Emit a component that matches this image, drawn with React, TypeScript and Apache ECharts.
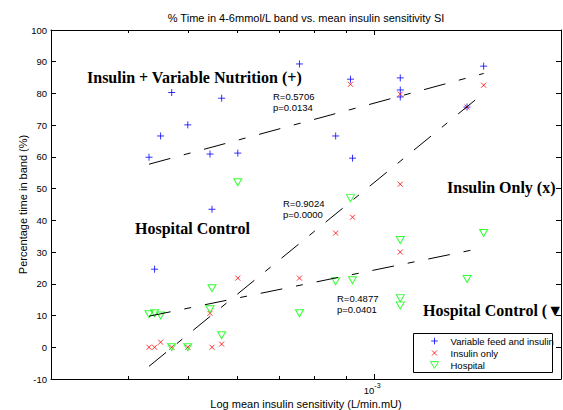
import { useEffect, useRef } from "react";
import * as echarts from "echarts";

const chartTitle = "% Time in 4-6mmol/L band vs. mean insulin sensitivity SI";
const xAxisTitle = "Log mean insulin sensitivity (L/min.mU)";
const yAxisTitle = "Percentage time in band (%)";

// x range and tick values of the log axis (L/min.mU)
const xMin = 3e-4;
const xMax = 2e-3;
const xMajorTicks = [1e-3];
const xMinorTicks = [4e-4, 5e-4, 6e-4, 7e-4, 8e-4, 9e-4, 2e-3];

// y range
const yMin = -10;
const yMax = 100;
const yStep = 10;

// mean insulin sensitivity SI of each patient
const sensitivity = [
  4.32e-4, 4.41e-4, 4.51e-4, 4.7e-4, 4.99e-4, 5.42e-4, 5.46e-4, 5.66e-4, 6.01e-4,
  7.56e-4, 8.65e-4, 9.14e-4, 9.21e-4, 1.1e-3, 1.1e-3, 1.1e-3, 1.41e-3, 1.5e-3,
];
// % time in band for each protocol, same patient order
const variableFeed = [59.9, 24.6, 66.6, 80.3, 70.1, 60.9, 43.5, 78.5, 61.2, 89.3, 66.6, 84.5, 59.6, 84.9, 81.1, 78.9, 75.7, 88.6];
const insulinOnly = [0, 0, 1.6, 0, 0, 10.7, 0, 1.0, 21.8, 21.8, 36.0, 82.9, 41.0, 79.8, 51.4, 30.0, 75.7, 82.6];
const hospital = [10.4, 10.7, 10.0, 0, 0, 12.0, 18.6, 3.8, 52.0, 10.7, 20.8, 47.0, 21.1, 33.8, 15.5, 13.2, 21.5, 36.0];

// regression line end points
const fitRange = [4.32e-4, 1.5e-3];
const fitVariableFeed = [57.7, 86.3];
const fitInsulinOnly = [-6.0, 80.1];
const fitHospital = [9.8, 31.4];

const seriesNames = ["Variable feed and insulin", "Insulin only", "Hospital"];
const statsVariableFeed = ["R=0.5706", "p=0.0134"];
const statsInsulinOnly = ["R=0.9024", "p=0.0000"];
const statsHospital = ["R=0.4877", "p=0.0401"];
const bigLabels = ["Insulin + Variable Nutrition (+)", "Hospital Control", "Insulin Only (x)", "Hospital Control (\u25BC"];

const SANS = "'Liberation Sans', Arial, Helvetica, sans-serif";
const SERIF = "'Liberation Serif', 'Times New Roman', Times, serif";

const PLUS = "path://M5,0L5,10M0,5L10,5";
const CROSS = "path://M0,0L10,10M10,0L0,10";
const CROSS_LEGEND = "path://M-3,-3M13,13M0,0L10,10M10,0L0,10";
const PLUS_LEGEND = "path://M-1,-1M11,11M5,0L5,10M0,5L10,5";
const TRI_DOWN = "path://M0,0L10,0L5,8.5Z";

export default function App() {
  const ref = useRef<HTMLDivElement>(null);

  useEffect(() => {
    document.body.style.margin = "0";
    const chart = echarts.init(ref.current as HTMLDivElement, null, { renderer: "svg" });

    const pairs = (ys: number[]) => sensitivity.map((x, i) => [x, ys[i]]);
    const fit = (ys: number[]) => fitRange.map((x, i) => [x, ys[i]]);
    const black = { color: "#000", width: 1 };
    const lg = (v: number) => Math.log10(v);

    // helper axes in log10 space that only carry the tick marks / box line
    const tickAxis = (position: string, ticks: number[], length: number, line: boolean) => ({
      type: "value",
      gridIndex: 0,
      position,
      min: lg(xMin),
      max: lg(xMax),
      splitLine: { show: false },
      axisLine: { show: line, onZero: false, lineStyle: black },
      axisTick: { show: true, inside: true, length, customValues: ticks.map(lg), lineStyle: black },
      axisLabel: { show: false },
      axisPointer: { show: false },
    });

    const baseY: any = {
      type: "value",
      min: yMin,
      max: yMax,
      interval: yStep,
      splitLine: { show: false },
    };

    const txt = (text: string, x: number, y: number, font: string, align = "left") => ({
      type: "text",
      x,
      y,
      z: 6,
      silent: true,
      style: { text, font, fill: "#000", align, verticalAlign: "middle", textAlign: align, textVerticalAlign: "middle" },
    });

    const small = `9.5px ${SANS}`;
    const bold = `bold 16px ${SERIF}`;

    const option: any = {
      animation: false,
      backgroundColor: "#fff",
      grid: { left: 51, top: 30, right: 2, bottom: 31, outerBoundsMode: "none", containLabel: false },
      xAxis: [
        {
          type: "log",
          logBase: 10,
          min: xMin,
          max: xMax,
          gridIndex: 0,
          position: "bottom",
          splitLine: { show: false },
          axisLine: { show: true, onZero: false, lineStyle: black },
          axisTick: { show: false },
          axisLabel: {
            show: true,
            customValues: xMajorTicks,
            margin: 3,
            formatter: (v: number) => `{b|10}{s|${Math.round(Math.log10(v))}}`,
            rich: {
              b: { fontSize: 9.5, fontFamily: SANS, color: "#000", lineHeight: 10, padding: [6, 0, 0, 0] },
              s: { fontSize: 7, fontFamily: SANS, color: "#000", lineHeight: 8, verticalAlign: "top", padding: [0, 5, 0, 0] },
            },
          },
          name: xAxisTitle,
          nameLocation: "middle",
          nameGap: 19,
          nameMoveOverlap: false,
          nameTextStyle: { fontSize: 11, fontFamily: SANS, color: "#000" },
        },
        tickAxis("bottom", xMajorTicks, 5, false),
        tickAxis("bottom", xMinorTicks, 3, false),
        tickAxis("top", xMajorTicks, 5, true),
        tickAxis("top", xMinorTicks, 3, false),
      ],
      yAxis: [
        {
          ...baseY,
          position: "left",
          axisLine: { show: true, onZero: false, lineStyle: black },
          axisTick: { show: true, inside: true, length: 5, lineStyle: black },
          axisLabel: { show: true, fontSize: 9.5, fontFamily: SANS, color: "#000", margin: 4 },
          name: yAxisTitle,
          nameLocation: "middle",
          nameGap: 23,
          nameRotate: 90,
          nameMoveOverlap: false,
          nameTextStyle: { fontSize: 11, fontFamily: SANS, color: "#000" },
        },
        {
          ...baseY,
          position: "right",
          axisLine: { show: true, onZero: false, lineStyle: black },
          axisTick: { show: true, inside: true, length: 5, lineStyle: black },
          axisLabel: { show: false },
        },
      ],
      legend: {
        show: true,
        orient: "vertical",
        left: 413,
        top: 333,
        padding: [2, 0, 0, 17],
        itemWidth: 8,
        itemHeight: 8,
        itemGap: 0,
        selectedMode: false,
        z: 5,
        textStyle: { fontSize: 9.5, fontFamily: SANS, color: "#000", lineHeight: 12, padding: [0, 0, 0, 7] },
        data: [
          { name: seriesNames[0], icon: PLUS_LEGEND, itemStyle: { color: "rgba(0,0,0,0)", borderColor: "#0000ff", borderWidth: 1 } },
          { name: seriesNames[1], icon: CROSS_LEGEND, itemStyle: { color: "rgba(0,0,0,0)", borderColor: "#ff0000", borderWidth: 1 } },
          { name: seriesNames[2], icon: TRI_DOWN, itemStyle: { color: "rgba(0,0,0,0)", borderColor: "#00ff00", borderWidth: 1 } },
        ],
      },
      series: [
        {
          type: "scatter",
          name: seriesNames[0],
          data: pairs(variableFeed),
          symbol: PLUS,
          symbolSize: 7,
          itemStyle: { color: "rgba(0,0,0,0)", borderColor: "#0000ff", borderWidth: 1 },
          z: 2,
        },
        {
          type: "scatter",
          name: seriesNames[1],
          data: pairs(insulinOnly),
          symbol: CROSS,
          symbolSize: 5,
          itemStyle: { color: "rgba(0,0,0,0)", borderColor: "#ff0000", borderWidth: 1 },
          z: 2,
        },
        {
          type: "scatter",
          name: seriesNames[2],
          data: pairs(hospital),
          symbol: TRI_DOWN,
          symbolSize: [8, 7],
          itemStyle: { color: "rgba(0,0,0,0)", borderColor: "#00ff00", borderWidth: 1 },
          z: 2,
        },
        ...[fitVariableFeed, fitInsulinOnly, fitHospital].map((ys) => ({
          type: "line",
          data: fit(ys),
          symbol: "none",
          silent: true,
          z: 3,
          lineStyle: { color: "#000", width: 1, type: [22, 14, 7, 14] },
        })),
      ],
      graphic: [
        {
          type: "rect",
          z: 4,
          silent: true,
          shape: { x: 413.5, y: 333.5, width: 139, height: 39 },
          style: { fill: "#fff", stroke: "#000", lineWidth: 1 },
        },
        txt(chartTitle, 306, 18, `11px ${SANS}`, "center"),
        txt(bigLabels[0], 87, 77, bold),
        txt(bigLabels[1], 135, 228, bold),
        txt(bigLabels[2], 447, 187, bold),
        txt(bigLabels[3], 423, 310, bold),
        txt(statsVariableFeed[0], 273, 96, small),
        txt(statsVariableFeed[1], 273, 107, small),
        txt(statsInsulinOnly[0], 283, 203, small),
        txt(statsInsulinOnly[1], 283, 214, small),
        txt(statsHospital[0], 337, 298, small),
        txt(statsHospital[1], 337, 309, small),
      ],
    };

    chart.setOption(option);
    return () => chart.dispose();
  }, []);

  return <div ref={ref} style={{ width: 563, height: 410 }} />;
}
